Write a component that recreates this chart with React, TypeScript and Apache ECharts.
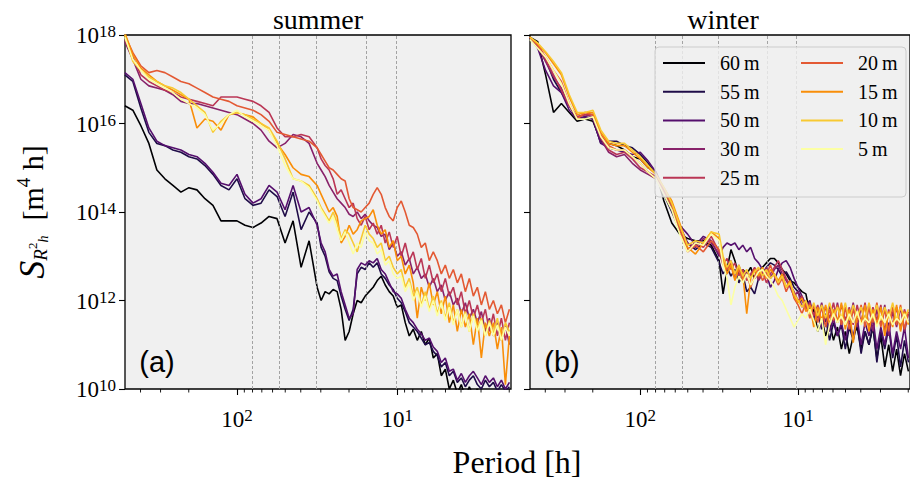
import React, { useEffect, useRef } from 'react';
import * as echarts from 'echarts';

// log10 of period [h] for each spectral estimate
const LOG_PERIOD = [
  2.70, 2.65, 2.60, 2.55, 2.50, 2.45, 2.40, 2.35, 2.30, 2.25, 2.20, 2.15, 2.10, 2.05, 2.00, 1.95, 1.90, 1.85, 1.80, 1.75, 1.70, 1.65, 1.60, 1.55, 1.50,
  1.475, 1.45, 1.425, 1.40, 1.375, 1.35, 1.325, 1.30, 1.275, 1.25, 1.225, 1.20, 1.175, 1.15, 1.125, 1.10, 1.075, 1.05, 1.025, 1.00,
  0.975, 0.95, 0.925, 0.90, 0.875, 0.85, 0.825, 0.80, 0.775, 0.75, 0.725, 0.70, 0.675, 0.65, 0.625, 0.60, 0.575, 0.55, 0.525, 0.50,
  0.475, 0.45, 0.425, 0.40, 0.375, 0.35, 0.325, 0.30,
];

const DEPTH_LABELS = ['60\u2009m', '55\u2009m', '50\u2009m', '30\u2009m', '25\u2009m', '20\u2009m', '15\u2009m', '10\u2009m', '5\u2009m'];
const COLORS = ['#000004', '#1f0c48', '#550f6d', '#88226a', '#ba3655', '#e35933', '#f98e09', '#f8c932', '#fcffa4'];

// log10 of spectral density, summer
const SUMMER_60 = [16.4, 16.3, 15.95, 15.55, 14.95, 14.75, 14.6, 14.45, 14.55, 14.5, 14.3, 14.15, 13.8, 13.8, 13.8, 13.7, 13.65, 13.75, 13.9, 13.85, 13.3, 13.8, 12.75, 13.35, 12.3,
  12.0, 12.2, 12.15, 12.25, 12.2, 11.8, 11.1, 11.3, 11.7, 12.0, 11.95, 12.1, 12.2, 12.3, 12.45, 12.55, 12.35, 12.2, 12.1, 11.85, 11.9, 11.5, 11.2, 11.35, 11.1, 11.3, 11.0, 11.15, 10.7, 10.8, 10.3, 10.45, 10.0, 10.2, 9.9, 10.1, 9.8, 10.05, 9.85, 10.0, 9.7, 9.95, 9.8, 9.9, 9.7, 9.85, 9.75, 9.9];
const SUMMER_55 = [17.1, 16.95, 16.35, 15.8, 15.55, 15.5, 15.4, 15.35, 15.25, 15.2, 15.05, 14.85, 14.6, 14.5, 14.75, 14.3, 14.15, 14.2, 14.5, 14.35, 13.9, 14.45, 13.6, 14.0, 13.75,
  13.2, 13.0, 12.65, 12.5, 12.45, 12.1, 11.8, 11.55, 11.8, 12.6, 12.75, 12.7, 12.85, 12.75, 12.85, 12.6, 12.5, 12.35, 12.25, 12.05, 11.95, 11.75, 11.5, 11.4, 11.3, 11.15, 11.0, 11.05, 10.85, 10.75, 10.5, 10.6, 10.3, 10.4, 10.15, 10.25, 10.05, 10.2, 10.3, 10.1, 10.0, 10.2, 10.05, 10.15, 9.95, 10.1, 9.95, 10.05];
const SUMMER_50 = [17.15, 17.0, 16.45, 15.9, 15.6, 15.5, 15.45, 15.4, 15.3, 15.25, 15.1, 14.9, 14.65, 14.6, 14.85, 14.4, 14.2, 14.3, 14.6, 14.45, 14.05, 14.6, 14.0, 14.1, 13.7,
  13.3, 13.1, 12.7, 12.55, 12.6, 12.2, 11.9, 11.6, 11.7, 12.7, 12.85, 12.8, 12.9, 12.85, 12.95, 12.7, 12.6, 12.4, 12.2, 12.15, 12.05, 11.8, 11.6, 11.5, 11.35, 11.25, 11.1, 11.15, 10.95, 10.85, 10.6, 10.7, 10.4, 10.45, 10.2, 10.35, 10.15, 10.3, 10.4, 10.25, 10.1, 10.3, 10.15, 10.25, 10.05, 10.2, 10.0, 10.15];
const SUMMER_30 = [17.85, 17.45, 17.0, 16.85, 16.8, 16.75, 16.65, 16.5, 16.45, 16.45, 16.4, 16.35, 16.3, 16.25, 16.2, 16.1, 16.0, 15.85, 15.6, 15.45, 15.55, 15.75, 15.7, 15.55, 15.1,
  14.95, 14.8, 14.6, 14.45, 14.3, 14.2, 14.1, 13.95, 13.9, 14.0, 13.85, 13.95, 13.8, 13.7, 13.65, 13.45, 13.5, 13.15, 13.3, 13.0, 13.1, 12.8, 12.95, 12.6, 12.75, 12.5, 12.6, 12.3, 12.5, 12.2, 12.35, 12.0, 12.2, 11.9, 12.05, 11.7, 11.95, 11.6, 11.8, 11.5, 11.75, 11.3, 11.6, 11.2, 11.5, 11.1, 11.45, 11.0];
const SUMMER_25 = [17.9, 17.5, 17.1, 16.95, 16.85, 16.75, 16.7, 16.6, 16.55, 16.5, 16.45, 16.4, 16.6, 16.6, 16.6, 16.55, 16.5, 16.4, 16.25, 15.9, 15.7, 15.7, 15.75, 15.7, 15.45,
  15.2, 15.05, 14.95, 14.75, 14.4, 14.5, 14.3, 14.1, 14.2, 13.85, 13.7, 13.9, 13.6, 13.75, 13.5, 13.7, 13.3, 13.55, 13.2, 13.45, 13.0, 13.3, 12.9, 13.1, 12.7, 12.95, 12.5, 12.8, 12.4, 12.6, 12.2, 12.5, 12.1, 12.3, 11.9, 12.2, 11.7, 12.0, 11.6, 11.9, 11.5, 11.8, 11.3, 11.7, 11.2, 11.6, 11.1, 11.5];
const SUMMER_20 = [18.0, 17.6, 17.3, 17.15, 17.2, 17.15, 17.05, 16.95, 16.9, 16.8, 16.7, 16.6, 16.55, 16.5, 16.4, 16.35, 16.3, 16.2, 16.05, 15.8, 15.75, 15.7, 15.65, 15.6, 15.45,
  15.3, 15.15, 15.0, 14.95, 14.85, 14.75, 14.7, 14.3, 14.1, 14.05, 14.0, 14.1, 14.2, 14.4, 14.55, 14.4, 14.1, 13.9, 13.8, 14.1, 14.25, 14.0, 13.7, 13.65, 13.5, 13.2, 13.3, 12.9, 13.1, 12.9, 12.6, 12.8, 12.5, 12.7, 12.4, 12.6, 12.2, 12.5, 12.1, 12.3, 11.9, 12.2, 11.8, 12.0, 11.7, 11.9, 11.5, 11.8];
const SUMMER_15 = [18.05, 17.55, 17.25, 17.1, 16.95, 16.85, 16.75, 16.65, 16.55, 15.9, 16.1, 16.05, 15.85, 16.2, 16.25, 16.2, 16.15, 16.0, 15.85, 15.55, 15.3, 15.0, 14.85, 14.8, 14.6,
  14.4, 14.2, 14.0, 14.1, 13.9, 13.3, 13.45, 13.7, 13.5, 13.6, 13.8, 13.85, 13.9, 14.05, 13.7, 13.5, 13.6, 13.2, 13.35, 12.9, 13.0, 12.6, 12.8, 12.4, 11.6, 12.3, 12.0, 12.4, 11.9, 12.2, 11.7, 12.1, 11.5, 11.9, 11.3, 11.8, 11.4, 11.7, 11.0, 11.6, 10.7, 11.5, 11.2, 11.5, 10.9, 11.4, 10.1, 11.2];
const SUMMER_10 = [18.0, 17.4, 17.2, 17.05, 16.95, 16.85, 16.8, 16.7, 16.55, 16.4, 16.25, 15.8, 16.05, 16.2, 16.25, 16.2, 16.1, 16.0, 15.9, 15.6, 15.2, 14.75, 14.7, 14.6, 14.3,
  14.1, 13.95, 13.8, 14.0, 13.75, 13.4, 13.6, 13.5, 13.3, 13.1, 13.4, 13.7, 13.5, 13.4, 13.2, 13.3, 12.9, 13.0, 12.75, 12.6, 12.7, 12.3, 12.5, 12.1, 12.3, 11.9, 12.2, 11.8, 12.1, 11.7, 12.0, 11.6, 11.95, 11.5, 11.8, 11.4, 11.75, 11.3, 11.7, 11.35, 11.6, 11.2, 11.55, 11.25, 11.6, 11.1, 11.5, 11.3];
const SUMMER_5 = [17.95, 17.45, 17.2, 17.0, 16.9, 16.8, 16.7, 16.55, 16.45, 16.35, 16.2, 15.85, 16.0, 16.2, 16.3, 16.15, 16.05, 15.95, 15.85, 15.5, 15.05, 14.75, 14.7, 14.55, 14.25,
  14.05, 13.9, 13.75, 13.9, 13.6, 13.35, 13.55, 13.3, 13.05, 13.3, 13.2, 13.55, 13.35, 13.3, 13.05, 13.15, 12.8, 12.9, 12.6, 12.5, 12.55, 12.2, 12.4, 12.0, 12.2, 11.85, 12.1, 11.75, 12.0, 11.65, 11.95, 11.55, 11.85, 11.45, 11.8, 11.4, 11.7, 11.3, 11.65, 11.3, 11.55, 11.2, 11.5, 11.2, 11.45, 11.1, 11.4, 11.2];

// log10 of spectral density, winter
const WINTER_60 = [17.95, 17.85, 17.1, 16.25, 16.45, 16.25, 16.05, 16.1, 16.05, 15.6, 15.55, 15.5, 15.4, 15.25, 15.2, 15.0, 14.9, 14.25, 13.75, 13.5, 13.4, 13.35, 13.35, 13.25, 12.9,
  12.15, 12.7, 13.15, 12.9, 12.55, 12.7, 12.6, 12.75, 12.5, 12.65, 12.75, 12.85, 12.95, 12.95, 12.85, 12.7, 12.6, 12.45, 12.4, 12.3, 12.2, 12.15, 11.7, 11.8, 11.3, 11.6, 11.2, 11.5, 11.1, 11.4, 10.9, 11.3, 10.8, 11.2, 11.4, 10.9, 11.3, 11.0, 11.4, 10.7, 11.2, 10.5, 11.0, 10.4, 10.9, 10.3, 10.8, 10.4];
const WINTER_55 = [17.95, 17.8, 17.45, 17.0, 16.7, 16.4, 16.1, 16.15, 16.1, 15.55, 15.6, 15.6, 15.5, 15.45, 15.3, 15.1, 14.85, 14.4, 14.0, 13.6, 13.3, 13.15, 13.3, 13.2, 12.85,
  12.6, 12.75, 12.55, 12.7, 12.4, 12.6, 12.2, 12.3, 12.15, 12.5, 12.6, 12.75, 12.85, 12.8, 12.7, 12.55, 12.65, 12.5, 12.3, 12.2, 12.0, 11.85, 11.95, 11.5, 11.75, 11.35, 11.6, 11.1, 11.5, 11.2, 11.45, 10.9, 11.4, 11.1, 11.5, 10.8, 11.3, 11.0, 11.45, 10.6, 11.3, 10.9, 11.4, 10.7, 11.2, 10.5, 11.1, 10.6];
const WINTER_50 = [17.95, 17.7, 17.2, 16.85, 16.7, 16.3, 16.1, 16.15, 16.1, 15.55, 15.45, 15.4, 15.35, 15.3, 15.35, 15.15, 14.9, 14.5, 14.05, 13.7, 13.5, 13.25, 13.45, 13.35, 13.0,
  13.2, 13.3, 13.25, 13.3, 13.15, 13.25, 13.1, 13.2, 12.95, 12.85, 12.7, 12.6, 12.3, 12.45, 12.7, 12.85, 12.9, 12.75, 12.5, 12.3, 12.1, 11.9, 12.0, 11.6, 11.8, 11.4, 11.7, 11.3, 11.6, 11.2, 11.5, 11.1, 11.5, 11.2, 11.6, 11.0, 11.5, 11.2, 11.6, 10.9, 11.4, 11.0, 11.5, 10.8, 11.3, 10.9, 11.4, 10.7];
const WINTER_30 = [17.95, 17.75, 17.4, 17.05, 16.8, 16.4, 16.15, 16.2, 16.15, 15.65, 15.35, 15.25, 15.3, 15.1, 14.95, 14.85, 14.75, 14.5, 14.15, 13.7, 13.3, 13.2, 13.4, 13.3, 13.05,
  12.9, 12.75, 12.9, 12.6, 12.8, 12.5, 12.65, 12.55, 12.7, 12.45, 12.6, 12.75, 12.5, 12.7, 12.8, 12.6, 12.45, 12.3, 12.1, 12.2, 11.85, 12.0, 11.7, 11.9, 11.6, 11.95, 11.55, 11.9, 11.5, 11.95, 11.45, 11.85, 11.5, 11.95, 11.4, 11.85, 11.55, 11.9, 11.3, 11.8, 11.45, 11.9, 11.2, 11.75, 11.4, 11.85, 11.3, 11.7];
const WINTER_25 = [17.95, 17.75, 17.45, 17.1, 16.75, 16.4, 16.15, 16.2, 16.2, 15.7, 15.4, 15.3, 15.35, 15.2, 15.0, 14.9, 14.8, 14.5, 14.2, 13.65, 13.15, 13.3, 13.2, 13.45, 13.1,
  12.8, 12.95, 12.7, 12.85, 12.55, 12.7, 12.45, 12.6, 12.75, 12.5, 12.65, 12.4, 12.6, 12.75, 12.9, 12.7, 12.5, 12.35, 12.2, 12.0, 12.1, 11.8, 11.95, 11.65, 11.9, 11.5, 11.85, 11.6, 11.95, 11.5, 11.9, 11.55, 11.85, 11.45, 11.9, 11.5, 11.95, 11.4, 11.85, 11.55, 11.9, 11.3, 11.8, 11.45, 11.85, 11.35, 11.8, 11.5];
const WINTER_20 = [17.95, 17.78, 17.5, 17.2, 16.95, 16.45, 16.1, 16.25, 16.2, 15.75, 15.5, 15.4, 15.4, 15.25, 15.1, 14.9, 14.75, 14.45, 14.15, 13.6, 13.1, 13.25, 13.1, 13.35, 13.15,
  12.95, 12.7, 12.85, 12.5, 12.7, 12.45, 12.6, 12.3, 12.55, 12.7, 12.45, 12.6, 12.8, 12.55, 12.35, 12.5, 12.2, 12.4, 12.05, 11.9, 11.7, 11.95, 11.6, 11.9, 11.5, 11.85, 11.4, 11.8, 11.55, 11.9, 11.45, 11.85, 11.35, 11.8, 11.5, 11.9, 11.4, 11.85, 11.5, 11.95, 11.4, 11.8, 11.3, 11.85, 11.45, 11.9, 11.35, 11.75];
const WINTER_15 = [17.95, 17.8, 17.6, 17.35, 17.1, 16.6, 16.2, 16.25, 16.25, 15.8, 15.55, 15.5, 15.5, 15.35, 15.2, 15.0, 14.85, 14.55, 14.25, 13.75, 13.2, 13.05, 13.3, 13.55, 13.4,
  12.9, 12.6, 12.8, 12.45, 12.75, 12.6, 11.7, 12.5, 12.7, 12.55, 12.75, 12.5, 12.7, 12.6, 12.45, 12.6, 12.3, 12.45, 12.1, 11.95, 12.05, 11.75, 11.9, 11.4, 11.85, 11.55, 11.9, 11.45, 11.8, 11.5, 11.95, 11.35, 11.8, 11.05, 11.7, 11.5, 11.9, 11.3, 11.8, 11.45, 11.85, 11.2, 11.75, 11.4, 11.9, 11.3, 11.75, 11.45];
const WINTER_10 = [17.95, 17.82, 17.62, 17.4, 17.15, 16.65, 16.25, 16.25, 16.3, 15.85, 15.6, 15.55, 15.55, 15.4, 15.25, 15.05, 14.85, 14.55, 14.2, 13.7, 13.25, 13.35, 13.3, 13.55, 13.5,
  13.0, 12.75, 12.9, 12.6, 12.8, 12.55, 12.7, 12.5, 12.65, 12.75, 12.55, 12.7, 12.5, 12.6, 12.4, 12.55, 12.3, 12.4, 12.15, 12.0, 11.85, 12.0, 11.7, 11.95, 11.65, 11.9, 11.6, 11.95, 11.65, 11.85, 11.6, 11.95, 11.55, 11.9, 11.65, 11.85, 11.55, 11.95, 11.6, 11.9, 11.55, 11.85, 11.6, 11.95, 11.55, 11.85, 11.6, 11.8];
const WINTER_5 = [17.9, 17.7, 17.5, 17.2, 16.9, 16.45, 16.1, 16.1, 16.15, 15.7, 15.45, 15.4, 15.4, 15.25, 15.1, 14.9, 14.75, 14.4, 14.05, 13.5, 13.1, 13.3, 13.25, 13.5, 13.35,
  12.8, 12.5, 11.9, 12.3, 12.55, 12.4, 12.6, 12.35, 12.5, 12.65, 12.7, 12.55, 12.45, 12.3, 12.1, 12.0, 11.8, 11.6, 11.4, 11.55, 11.7, 11.6, 11.8, 11.55, 11.3, 11.6, 11.0, 11.45, 11.7, 11.5, 11.65, 11.45, 11.7, 11.5, 11.75, 11.45, 11.6, 11.5, 11.7, 11.4, 11.65, 11.5, 11.7, 11.45, 11.6, 11.5, 11.7, 11.5];

const SUMMER = [SUMMER_60, SUMMER_55, SUMMER_50, SUMMER_30, SUMMER_25, SUMMER_20, SUMMER_15, SUMMER_10, SUMMER_5];
const WINTER = [WINTER_60, WINTER_55, WINTER_50, WINTER_30, WINTER_25, WINTER_20, WINTER_15, WINTER_10, WINTER_5];

// dashed reference periods [h]
const REF_PERIODS = [80, 54.4, 32.1, 15.6, 10.2];
// minor tick periods [h]
const MINOR_PERIODS = [2, 3, 4, 5, 6, 7, 8, 9, 20, 30, 40, 50, 60, 70, 80, 90, 200, 300, 400];
const PANEL_TITLES = ['summer', 'winter'];
const PANEL_TAGS = ['(a)', '(b)'];

const SERIF = "'Liberation Serif', 'DejaVu Serif', serif";
const SANS = "'Liberation Sans', Arial, sans-serif";

export default function App() {
  const ref = useRef<HTMLDivElement>(null);

  useEffect(() => {
    const chart = echarts.init(ref.current!, null, { renderer: 'svg' });
    const periods = LOG_PERIOD.map((l) => Math.pow(10, l));

    const GRID_TOP = 35;
    const GRID_H = 354;
    const GRID_W = 386;
    const GRID_LEFTS = [125, 530];

    const powLabel = (v: number) => {
      const l = Math.log10(v);
      const e = Math.round(l);
      if (Math.abs(l - e) > 1e-6) return '';
      return `{b|10}{e|${e}}`;
    };
    const rich = {
      b: { fontFamily: SERIF, fontSize: 23, lineHeight: 24, color: '#000', verticalAlign: 'bottom' },
      e: { fontFamily: SERIF, fontSize: 17, lineHeight: 16, color: '#000', verticalAlign: 'top' },
    };

    const grids = GRID_LEFTS.map((left) => ({
      left, top: GRID_TOP, width: GRID_W, height: GRID_H,
      show: true, backgroundColor: '#f0f0f0', borderColor: '#000', borderWidth: 1.3,
    }));

    const xAxes = [0, 1].map((i) => ({
      type: 'log', gridIndex: i, logBase: 10, min: 1.95, max: 500, inverse: true,
      axisLine: { show: false },
      axisTick: { show: true, length: 6, lineStyle: { color: '#000', width: 1.1 } },
      splitLine: { show: false },
      axisLabel: { show: true, margin: 18, formatter: powLabel, rich, showMinLabel: false, showMaxLabel: false },
    }));

    const yAxes = [0, 1].map((i) => ({
      type: 'log', gridIndex: i, logBase: 10, min: 1e10, max: 1e18, interval: 2,
      axisLine: { show: false },
      axisTick: { show: true, length: 6, lineStyle: { color: '#000', width: 1.1 } },
      splitLine: { show: false },
      axisLabel: { show: i === 0, margin: 9, formatter: powLabel, rich },
    }));

    const series: any[] = [];
    [0, 1].forEach((panel) => {
      series.push({
        type: 'line', xAxisIndex: panel, yAxisIndex: panel, data: [], silent: true, z: 1,
        markLine: {
          silent: true, symbol: ['none', 'none'], label: { show: false },
          lineStyle: { color: '#9a9a9a', type: [3, 2], width: 0.9 },
          data: REF_PERIODS.map((p) => ({ xAxis: p })),
        },
      });
      const sets = panel === 0 ? SUMMER : WINTER;
      sets.forEach((arr, i) => {
        series.push({
          type: 'line', name: DEPTH_LABELS[i], xAxisIndex: panel, yAxisIndex: panel,
          data: arr.map((v, k) => [periods[k], Math.pow(10, v)]),
          showSymbol: false, symbol: 'none', silent: true, clip: true, z: 3 + i,
          lineStyle: { color: COLORS[i], width: 1.6 },
          itemStyle: { color: COLORS[i] },
        });
      });
    });

    const legendBase = {
      orient: 'vertical', top: 53, padding: 0, itemGap: 8.7, itemWidth: 42, itemHeight: 2,
      icon: 'rect', selectedMode: false, z: 100,
      textStyle: { fontFamily: SERIF, fontSize: 20, color: '#000', lineHeight: 20, padding: [0, 0, 0, 10] },
    };

    chart.setOption({
      animation: false,
      grid: grids,
      xAxis: xAxes,
      yAxis: yAxes,
      legend: [
        { ...legendBase, left: 663, data: DEPTH_LABELS.slice(0, 5) },
        { ...legendBase, left: 801, data: DEPTH_LABELS.slice(5) },
      ],
      series,
    });

    const graphics: any[] = [];
    // minor ticks on the period axes
    [0, 1].forEach((panel) => {
      MINOR_PERIODS.forEach((p) => {
        const px = chart.convertToPixel({ xAxisIndex: panel } as any, p) as unknown as number;
        if (typeof px === 'number' && isFinite(px)) {
          graphics.push({
            type: 'line', silent: true, z: 10,
            shape: { x1: px, y1: GRID_TOP + GRID_H, x2: px, y2: GRID_TOP + GRID_H + 3.5 },
            style: { stroke: '#000', lineWidth: 0.9 },
          });
        }
      });
    });
    PANEL_TITLES.forEach((t, i) => {
      graphics.push({
        type: 'text', x: GRID_LEFTS[i] + GRID_W / 2, y: 19, silent: true,
        style: { text: t, fontFamily: SERIF, fontSize: 28, fill: '#000', align: 'center', verticalAlign: 'middle' },
      });
      graphics.push({
        type: 'text', x: GRID_LEFTS[i] + 32, y: 362, silent: true, z: 20,
        style: { text: PANEL_TAGS[i], fontFamily: SANS, fontSize: 29, fill: '#000', align: 'center', verticalAlign: 'middle' },
      });
    });
    graphics.push({
      type: 'text', x: 517, y: 462, silent: true,
      style: { text: 'Period [h]', fontFamily: SERIF, fontSize: 32, fill: '#000', align: 'center', verticalAlign: 'middle' },
    });
    graphics.push({
      type: 'text', x: 32, y: 212, rotation: Math.PI / 2, silent: true,
      style: {
        text: '{s|S}{r|R}{two|2}{h|h}{t|  [m}{four|4}{t| h]}',
        align: 'center', verticalAlign: 'middle',
        rich: {
          s: { fontFamily: SERIF, fontStyle: 'italic', fontSize: 36, lineHeight: 36, fill: '#000', verticalAlign: 'middle' },
          r: { fontFamily: SERIF, fontStyle: 'italic', fontSize: 19, lineHeight: 19, fill: '#000', verticalAlign: 'bottom' },
          two: { fontFamily: SERIF, fontSize: 13, lineHeight: 13, fill: '#000', verticalAlign: 'middle' },
          h: { fontFamily: SERIF, fontStyle: 'italic', fontSize: 14, lineHeight: 10, fill: '#000', verticalAlign: 'bottom' },
          t: { fontFamily: SERIF, fontSize: 30, lineHeight: 36, fill: '#000', verticalAlign: 'middle' },
          four: { fontFamily: SERIF, fontSize: 19, lineHeight: 19, fill: '#000', verticalAlign: 'top' },
        },
      },
    });
    // legend frame
    graphics.push({
      type: 'rect', silent: true, z: 50,
      shape: { x: 655, y: 47, width: 251, height: 150, r: 4 },
      style: { fill: 'rgba(240,240,240,0.8)', stroke: '#cccccc', lineWidth: 1 },
    });

    chart.setOption({ graphic: graphics });

    return () => chart.dispose();
  }, []);

  return <div ref={ref} style={{ position: 'absolute', left: 0, top: 0, width: 910, height: 484 }} />;
}
